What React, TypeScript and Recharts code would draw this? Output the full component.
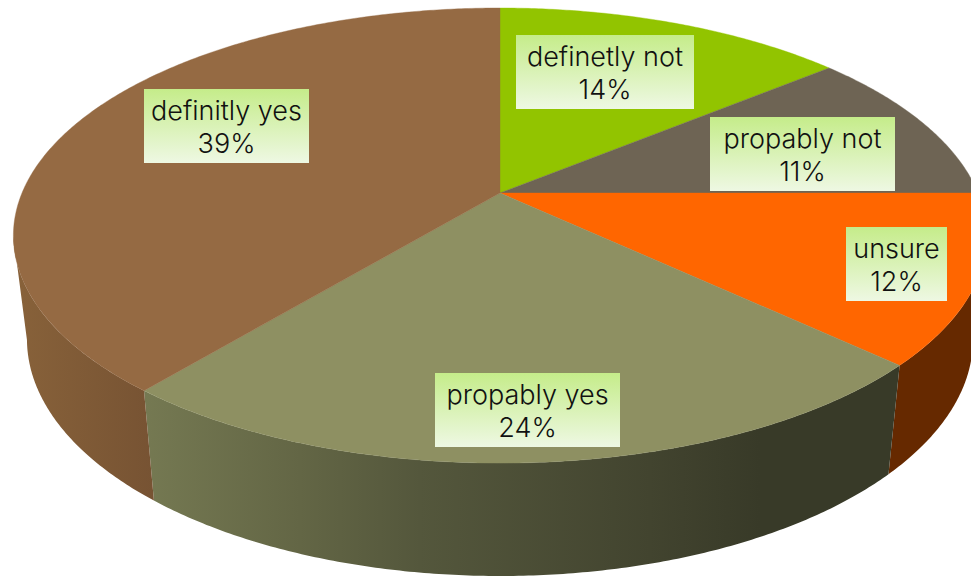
import React from "react";
import { PieChart, Pie } from "recharts";

const categories = ["definetly not", "propably not", "unsure", "propably yes", "definitly yes"];
const shares = [14, 11, 12, 24, 39];

const faceColors = ["#92c400", "#6e6454", "#ff6600", "#8e9062", "#956a43"];
// horizontal shading of each slice's side wall: [x, colour]
const wallStops: [number, string][][] = [
  [[0, "#4a4436"]],
  [[0, "#4a4436"]],
  [[0, "#662900"]],
  [
    [144, "#757952"],
    [300, "#636645"],
    [420, "#54573c"],
    [650, "#42442f"],
    [760, "#383a28"],
    [890, "#383a28"],
  ],
  [
    [13, "#88623a"],
    [153, "#775333"],
  ],
];

// label box per slice: left, top, width
const labelBoxes = [
  [516, 35, 178],
  [710, 117, 185],
  [846, 227, 101],
  [435, 373, 185],
  [144, 89, 165],
];
const LABEL_HEIGHT = 74;

const WIDTH = 971;
const HEIGHT = 576;
const APEX_X = 500;
const APEX_Y = 193;

// the tilted disc is a perspective image of a circle
const TILT = 0.187;
const topRim = { a: 478, b: 219.6, y: APEX_Y };
const bottomRim = { a: 464.7, b: 228.7, y: 294.7 };
// rim stretch that is visible from the front, in degrees
const WALL_FROM = -169;
const WALL_TO = -11;

const rows = categories.map((name, i) => ({
  name,
  value: shares[i],
  fill: faceColors[i],
  gradient: `wall-${i}`,
}));

type Rim = { a: number; b: number; y: number };

function project(rim: Rim, deg: number) {
  const t = (deg * Math.PI) / 180;
  const u = Math.cos(t);
  const v = -Math.sin(t);
  const d = 1 - TILT * v;
  return [APEX_X + (rim.a * u) / d, rim.y + (rim.b * v) / d];
}

function arcPoints(rim: Rim, from: number, to: number) {
  const pts: number[][] = [];
  const steps = Math.max(2, Math.ceil(Math.abs(to - from) * 2));
  for (let s = 0; s <= steps; s++) pts.push(project(rim, from + ((to - from) * s) / steps));
  return pts;
}

const toPath = (pts: number[][]) =>
  pts.map((p, i) => `${i ? "L" : "M"}${p[0].toFixed(2)} ${p[1].toFixed(2)}`).join(" ");

function FaceSlice(props: any) {
  const { startAngle, endAngle, fill } = props;
  const d = `M${APEX_X} ${APEX_Y} ${toPath(arcPoints(topRim, startAngle, endAngle)).replace("M", "L")} Z`;
  return <path d={d} fill={fill} stroke={fill} strokeWidth={0.4} />;
}

function WallSlice(props: any) {
  const { startAngle, endAngle, gradient } = props;
  // recharts runs clockwise, so endAngle is the lower number
  const lo = Math.max(endAngle, WALL_FROM);
  const hi = Math.min(startAngle, WALL_TO);
  if (hi <= lo) return <g />;
  const top = arcPoints(topRim, lo, hi);
  const bottom = arcPoints(bottomRim, hi, lo);
  return <path d={`${toPath(top)} ${toPath(bottom).replace("M", "L")} Z`} fill={`url(#${gradient})`} />;
}

function SliceLabel(props: any) {
  const { index, name, value } = props;
  const [x, y, w] = labelBoxes[index];
  const mid = x + w / 2;
  const textStyle = { fontFamily: "Inter, sans-serif", fontWeight: 300, fontSize: 27, fill: "#111" };
  return (
    <g>
      <rect x={x} y={y} width={w} height={LABEL_HEIGHT} fill="url(#label-bg)" />
      <text x={mid} y={y + 31} textAnchor="middle" style={textStyle}>
        {name}
      </text>
      <text x={mid} y={y + 64} textAnchor="middle" style={textStyle}>
        {value}%
      </text>
    </g>
  );
}

export default function App() {
  return (
    <div style={{ position: "absolute", left: 0, top: 0, width: WIDTH, height: HEIGHT, overflow: "hidden", background: "#fff" }}>
      <PieChart width={WIDTH} height={HEIGHT} margin={{ top: 0, right: 0, bottom: 0, left: 0 }}>
        <defs>
          <linearGradient id="label-bg" x1="0" y1="0" x2="0" y2="1">
            <stop offset="0%" stopColor="#c5ec8a" />
            <stop offset="100%" stopColor="#eef8e3" />
          </linearGradient>
          {wallStops.map((stops, i) => {
            const first = stops[0][0];
            const span = stops[stops.length - 1][0] - first || 1;
            return (
              <linearGradient key={i} id={`wall-${i}`} gradientUnits="userSpaceOnUse" x1={first} y1="0" x2={first + span} y2="0">
                {stops.map(([x, color]) => (
                  <stop key={x} offset={(x - first) / span} stopColor={color} />
                ))}
              </linearGradient>
            );
          })}
        </defs>
        {/* side wall goes down first, the top face covers its upper edge */}
        <Pie
          data={rows}
          dataKey="value"
          cx={APEX_X}
          cy={APEX_Y}
          outerRadius={180}
          startAngle={90}
          endAngle={-270}
          stroke="none"
          shape={WallSlice}
          label={false}
          labelLine={false}
          isAnimationActive={false}
        />
        <Pie
          data={rows}
          dataKey="value"
          nameKey="name"
          cx={APEX_X}
          cy={APEX_Y}
          outerRadius={180}
          startAngle={90}
          endAngle={-270}
          stroke="none"
          shape={FaceSlice}
          label={SliceLabel}
          labelLine={false}
          isAnimationActive={false}
        />
      </PieChart>
    </div>
  );
}
